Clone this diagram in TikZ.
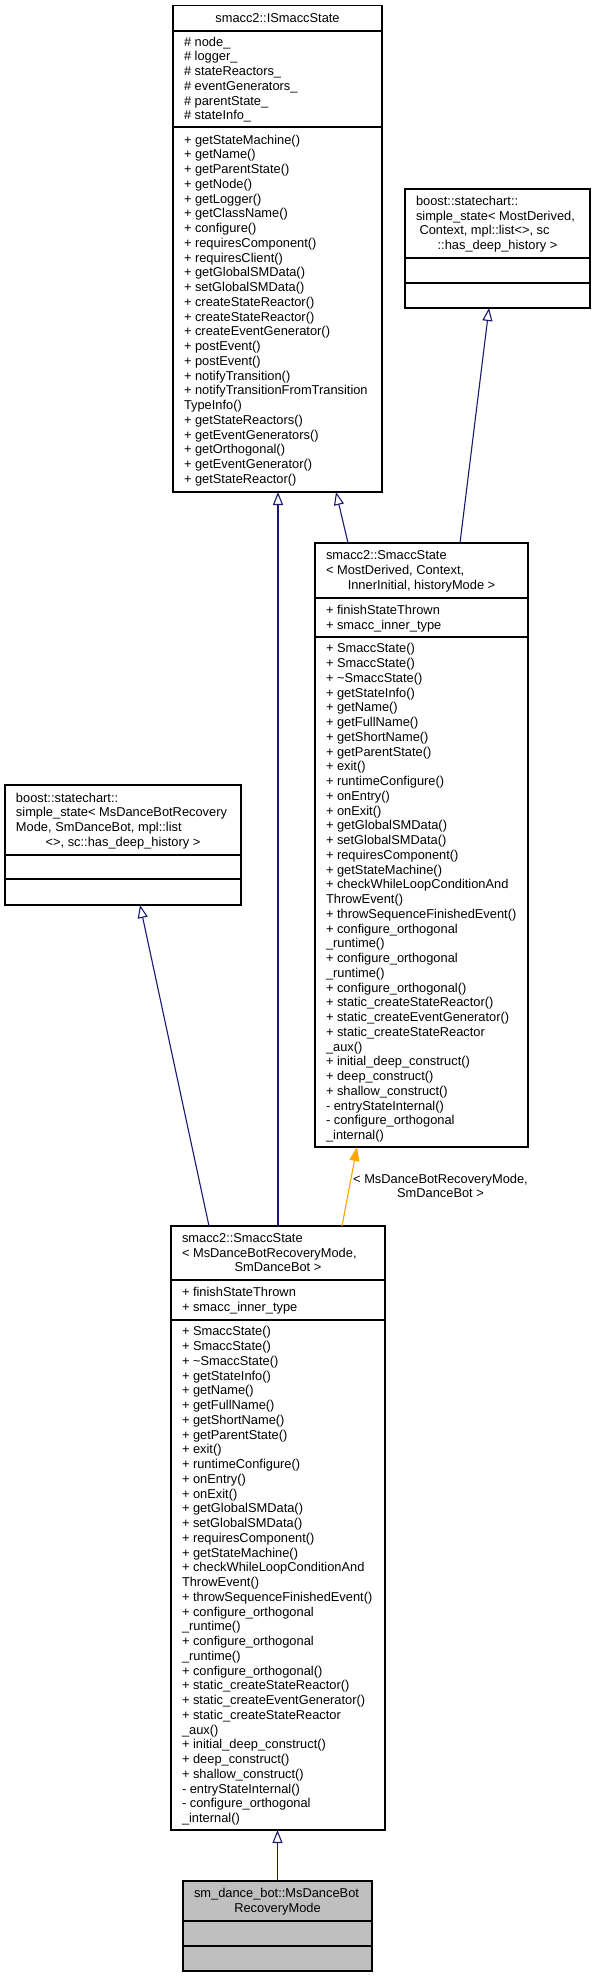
\documentclass[tikz,border=0pt]{standalone}
\usepackage{fontspec}
\setmainfont{Liberation Sans}
\usetikzlibrary{arrows.meta}
\definecolor{edgeblue}{HTML}{191970}
\definecolor{edgeorange}{HTML}{FFA500}
\definecolor{leafgray}{HTML}{BFBFBF}
\newdimen\cw
\newcommand\dfont{\fontsize{12.85pt}{14.75pt}\selectfont}
\newcommand\Lt[1]{\hbox to \cw{\hskip 11pt\vrule height 11.5pt depth 3.25pt width 0pt\relax #1\hfil}}
\newcommand\Ct[1]{\hbox to \cw{\hfil\vrule height 11.5pt depth 3.25pt width 0pt\relax #1\hfil}}
\newcommand\compart[2]{\cw=#1pt\vbox{\offinterlineskip #2}}
\newcommand\smaccattrs{\Lt{+ finishStateThrown}\Lt{+ smacc\_inner\_type}}
\newcommand\smaccmethods{%
\Lt{+ SmaccState()}\Lt{+ SmaccState()}\Lt{+ \textasciitilde SmaccState()}\Lt{+ getStateInfo()}%
\Lt{+ getName()}\Lt{+ getFullName()}\Lt{+ getShortName()}\Lt{+ getParentState()}%
\Lt{+ exit()}\Lt{+ runtimeConfigure()}\Lt{+ onEntry()}\Lt{+ onExit()}%
\Lt{+ getGlobalSMData()}\Lt{+ setGlobalSMData()}\Lt{+ requiresComponent()}\Lt{+ getStateMachine()}%
\Lt{+ checkWhileLoopConditionAnd}\Lt{ThrowEvent()}\Lt{+ throwSequenceFinishedEvent()}%
\Lt{+ configure\_orthogonal}\Lt{\_runtime()}\Lt{+ configure\_orthogonal}\Lt{\_runtime()}%
\Lt{+ configure\_orthogonal()}\Lt{+ static\_createStateReactor()}\Lt{+ static\_createEventGenerator()}%
\Lt{+ static\_createStateReactor}\Lt{\_aux()}\Lt{+ initial\_deep\_construct()}\Lt{+ deep\_construct()}%
\Lt{+ shallow\_construct()}\Lt{- entryStateInternal()}\Lt{- configure\_orthogonal}\Lt{\_internal()}}
\tikzset{
  umlbox/.style={draw=black, line width=1.2pt, fill=white, rectangle, inner sep=0pt, outer sep=0pt, anchor=north west},
  divider/.style={draw=black, line width=1.2pt},
  txt/.style={anchor=west, inner sep=0pt, outer sep=0pt, font=\dfont},
  inh/.style={draw=edgeblue, line width=1.1pt, -{Triangle[open, length=13pt, width=10pt, fill=white]}},
  tmpl/.style={draw=edgeorange, line width=1.1pt, -{Triangle[length=14pt, width=10pt]}},
}
\begin{document}
\begin{tikzpicture}[x=1pt,y=-1pt]
\useasboundingbox (0,0) rectangle (595,1977);

% ---- boxes ----
\node[umlbox, minimum width=209pt, minimum height=486.5pt] (iss) at (173,5.5) {};
\draw[divider] ([yshift=-25.5pt]iss.north west) -- ([yshift=-25.5pt]iss.north east);
\draw[divider] ([yshift=-121.5pt]iss.north west) -- ([yshift=-121.5pt]iss.north east);

\node[umlbox, minimum width=185pt, minimum height=119pt] (ss2) at (405,189) {};
\draw[divider] ([yshift=-69pt]ss2.north west) -- ([yshift=-69pt]ss2.north east);
\draw[divider] ([yshift=-94pt]ss2.north west) -- ([yshift=-94pt]ss2.north east);

\node[umlbox, minimum width=213pt, minimum height=604pt] (smg) at (315,543) {};
\draw[divider] ([yshift=-55pt]smg.north west) -- ([yshift=-55pt]smg.north east);
\draw[divider] ([yshift=-94pt]smg.north west) -- ([yshift=-94pt]smg.north east);

\node[umlbox, minimum width=236pt, minimum height=120pt] (ss1) at (5,785) {};
\draw[divider] ([yshift=-70pt]ss1.north west) -- ([yshift=-70pt]ss1.north east);
\draw[divider] ([yshift=-94pt]ss1.north west) -- ([yshift=-94pt]ss1.north east);

\node[umlbox, minimum width=214pt, minimum height=604pt] (smi) at (171,1226) {};
\draw[divider] ([yshift=-54pt]smi.north west) -- ([yshift=-54pt]smi.north east);
\draw[divider] ([yshift=-94pt]smi.north west) -- ([yshift=-94pt]smi.north east);

\node[umlbox, fill=leafgray, minimum width=189pt, minimum height=90pt] (mdr) at (183,1881) {};
\draw[divider] ([yshift=-40pt]mdr.north west) -- ([yshift=-40pt]mdr.north east);
\draw[divider] ([yshift=-65pt]mdr.north west) -- ([yshift=-65pt]mdr.north east);

% ---- texts ----
\node[txt] (iss-title) at (173,18.25) {\compart{209}{\Ct{smacc2::ISmaccState}}};
\node[txt] (iss-attr) at (173,79) {\compart{209}{%
\Lt{\# node\_}\Lt{\# logger\_}\Lt{\# stateReactors\_}\Lt{\# eventGenerators\_}\Lt{\# parentState\_}\Lt{\# stateInfo\_}}};
\node[txt] (iss-meth) at (173,309.5) {\compart{209}{%
\Lt{+ getStateMachine()}\Lt{+ getName()}\Lt{+ getParentState()}\Lt{+ getNode()}%
\Lt{+ getLogger()}\Lt{+ getClassName()}\Lt{+ configure()}\Lt{+ requiresComponent()}%
\Lt{+ requiresClient()}\Lt{+ getGlobalSMData()}\Lt{+ setGlobalSMData()}\Lt{+ createStateReactor()}%
\Lt{+ createStateReactor()}\Lt{+ createEventGenerator()}\Lt{+ postEvent()}\Lt{+ postEvent()}%
\Lt{+ notifyTransition()}\Lt{+ notifyTransitionFromTransition}\Lt{TypeInfo()}\Lt{+ getStateReactors()}%
\Lt{+ getEventGenerators()}\Lt{+ getOrthogonal()}\Lt{+ getEventGenerator()}\Lt{+ getStateReactor()}}};

\node[txt] (ss2-title) at (405,223.5) {\compart{185}{%
\Lt{boost::statechart::}\Lt{simple\_state< MostDerived,}\Lt{\ Context, mpl::list<>, sc}\Ct{::has\_deep\_history >}}};

\node[txt] (smg-title) at (315,570.5) {\compart{213}{%
\Lt{smacc2::SmaccState}\Lt{< MostDerived, Context,}\Ct{InnerInitial, historyMode >}}};
\node[txt] (smg-attr) at (315,617.5) {\compart{213}{\smaccattrs}};
\node[txt] (smg-meth) at (315,892) {\compart{213}{\smaccmethods}};

\node[txt] (ss1-title) at (5,820) {\compart{236}{%
\Lt{boost::statechart::}\Lt{simple\_state< MsDanceBotRecovery}\Lt{Mode, SmDanceBot, mpl::list}\Ct{<>, sc::has\_deep\_history >}}};

\node[txt] (smi-title) at (171,1253) {\compart{214}{%
\Lt{smacc2::SmaccState}\Lt{< MsDanceBotRecoveryMode,}\Ct{SmDanceBot >}}};
\node[txt] (smi-attr) at (171,1300) {\compart{214}{\smaccattrs}};
\node[txt] (smi-meth) at (171,1575) {\compart{214}{\smaccmethods}};

\node[txt] (mdr-title) at (183,1901) {\compart{189}{%
\Lt{sm\_dance\_bot::MsDanceBot}\Ct{RecoveryMode}}};

% ---- connectors ----
\draw[inh] ([xshift=145pt]smg.north west) -- ([xshift=84pt]ss2.south west);
\draw[inh] ([xshift=33pt]smg.north west) -- ([xshift=163pt]iss.south west);
\draw[inh] (smi.north) -- (smi.north |- iss.south);
\draw[inh] ([xshift=38pt]smi.north west) -- ([xshift=135pt]ss1.south west);
\draw[tmpl] ([xshift=171pt]smi.north west) -- ([xshift=42pt]smg.south west);
\draw[inh] (mdr.north) -- (mdr.north |- smi.south);

\node[txt, anchor=center] (lbl) at (440.5,1186.25) {\compart{200}{%
\Ct{< MsDanceBotRecoveryMode,}\Ct{SmDanceBot >}}};
\end{tikzpicture}
\end{document}
